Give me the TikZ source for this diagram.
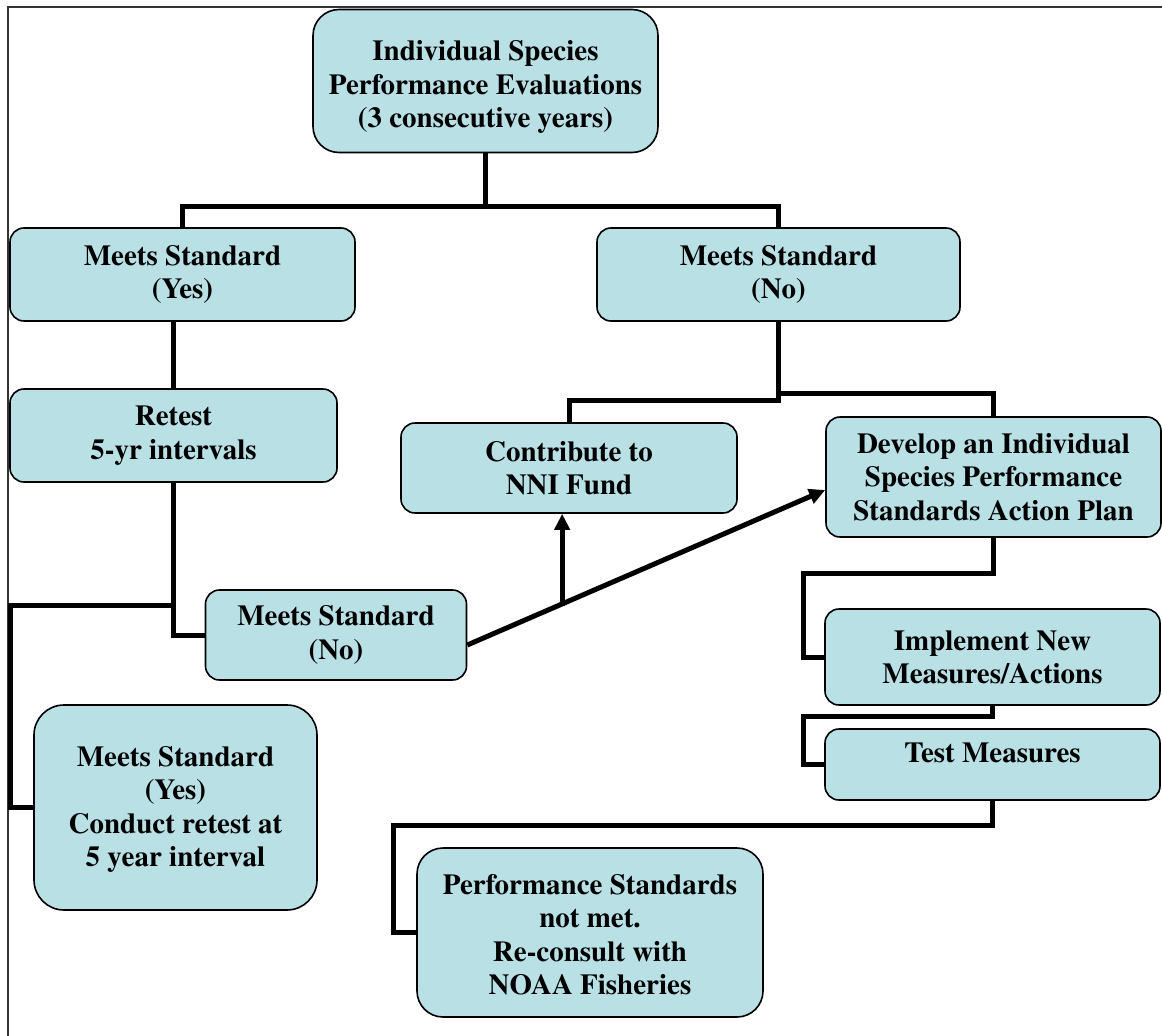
\documentclass[tikz,border=0pt]{standalone}
\usepackage[T1]{fontenc}
\usepackage{times}
\usetikzlibrary{arrows.meta,calc}
\definecolor{boxfill}{RGB}{185,224,228}
\begin{document}
\begin{tikzpicture}[x=1pt,y=-1pt,
  box/.style={draw=black, line width=1.6pt, fill=boxfill, rounded corners=14pt,
    align=center, inner sep=0pt, font=\bfseries\fontsize{29}{33.5}\selectfont},
  conn/.style={line width=5pt, line join=miter},
  arr/.style={conn, -{Triangle[length=16pt,width=15pt]}},
  frame/.style={line width=1.5pt, draw=black!80}]
\useasboundingbox (0,0) rectangle (1162,1036);
\draw[frame] (1162,7) -- (8,7) -- (8,1036);

\node[box, minimum width=345pt, minimum height=143pt, rounded corners=26pt] (top) at (485.5,81)
  {\rule{0pt}{32pt}Individual Species\\Performance Evaluations\\(3 consecutive years)};
\node[box, minimum width=345pt, minimum height=93pt] (yes) at (182.5,274.5) {Meets Standard\\(Yes)};
\node[box, minimum width=363pt, minimum height=93pt] (no1) at (778.5,274.5) {Meets Standard\\(No)};
\node[box, minimum width=327pt, minimum height=93pt] (retest) at (173.5,435.5) {Retest\\5-yr intervals};
\node[box, minimum width=336pt, minimum height=90pt] (contrib) at (569,468) {Contribute to\\NNI Fund};
\node[box, minimum width=335pt, minimum height=120pt] (develop) at (993.5,477)
  {Develop an Individual\\Species Performance\\Standards Action Plan};
\node[box, minimum width=261pt, minimum height=90pt] (msno) at (336,635) {Meets Standard\\(No)};
\node[box, minimum width=283pt, minimum height=205pt, rounded corners=30pt] (yesb) at (175.5,807.5)
  {\rule{0pt}{24pt}Meets Standard\\(Yes)\\Conduct retest at\\5 year interval};
\node[box, minimum width=335pt, minimum height=96pt] (implement) at (992.5,657)
  {Implement New\\Measures/Actions};
\node[box, minimum width=335pt, minimum height=71pt] (test) at (992.5,764.5) {Test Measures\\[-20pt]\strut};
\node[box, minimum width=346pt, minimum height=169pt, rounded corners=26pt] (perf) at (590,932.5)
  {\rule{0pt}{24pt}Performance Standards\\not met.\\Re-consult with\\NOAA Fisheries};

% connectors
\coordinate (hub) at ($(top.south)+(0,53)$);
\draw[conn] (top.south) -- (hub);
\draw[conn] (yes.north) |- (hub) -| (no1.north);
\draw[conn] (retest.north |- yes.south) -- (retest.north);
\draw[conn] (no1.south) -- ++(0,79) -| (contrib.north);
\draw[conn] (no1.south) -- ++(0,72) -| (develop.north);
\draw[conn] (retest.south) |- (msno.west);
\draw[conn] (retest.south) -- ++(0,123) -- ++(-163.5,0) |- (yesb.west);
\coordinate (ab) at ($(msno.east)+(0,10)$);
\coordinate (ae) at ($(develop.west)+(0,13)$);
\coordinate (br) at ($(ab)!0.265!(ae)$);
\draw[arr] (ab) -- (ae);
\draw[arr] ($(br)+(0,2)$) -- (br |- contrib.south);
\draw[conn] (develop.south) -- ++(0,36) -- ++(-190.5,0) |- (implement.west);
\draw[conn] (implement.south) -- ++(0,11) -- ++(-189.5,0) |- (test.west);
\draw[conn] (test.south) -- ++(0,25) -- ++(-599.5,0) |- (perf.west);
\end{tikzpicture}
\end{document}
